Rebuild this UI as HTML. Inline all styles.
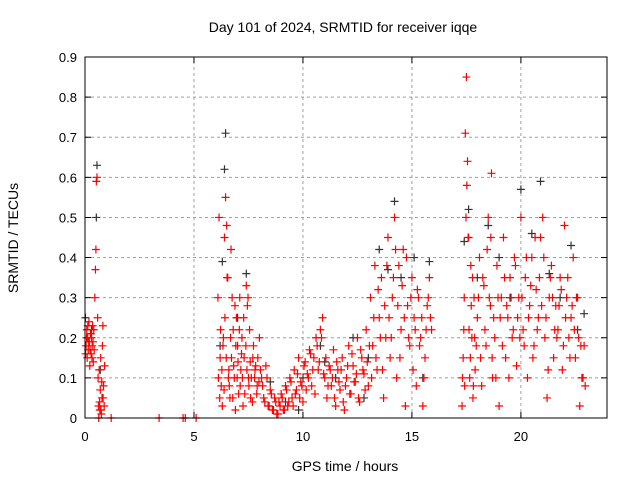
<!DOCTYPE html>
<html><head><meta charset="utf-8"><style>
body{margin:0;background:#fff}
svg{display:block;font-family:"Liberation Sans",sans-serif}
</style></head><body>
<svg id="chart" width="640" height="480">
<text x="343" y="32" text-anchor="middle" font-size="14">Day 101 of 2024, SRMTID for receiver iqqe</text>
<text x="345" y="471" text-anchor="middle" font-size="14">GPS time / hours</text>
<text transform="translate(18,238) rotate(-90)" text-anchor="middle" font-size="14">SRMTID / TECUs</text>
<g id="grid"></g><g id="ticks"></g><g id="black"></g><g id="red"></g>
<rect x="85" y="57" width="522" height="361" fill="none" stroke="#000"/>
</svg>
<script>
const xTicks=[0,5,10,15,20];
const yTicks=[0,0.1,0.2,0.3,0.4,0.5,0.6,0.7,0.8,0.9];
const redT=[0.05,0.08,0.1,0.12,0.15,0.18,0.2,0.22,0.25,0.28,0.3,0.33,0.35,0.38,0.4,0.45,0.48,0.5,0.52,0.55,0.58,0.6,0.62,0.65,0.68,0.7,0.72,0.75,0.78,0.8,0.82,0.85,0.88,0.9,1.2,3.4,4.5,4.6,5.1,6.1,6.15,6.2,6.25,6.3,6.35,6.4,6.45,6.5,6.55,6.6,6.65,6.7,6.75,6.8,6.85,6.9,6.95,7.0,7.05,7.1,7.15,7.2,7.25,7.3,7.4,7.45,7.5,7.55,7.6,7.7,7.8,7.9,8.0,8.1,8.2,8.3,8.4,8.5,8.6,8.7,8.8,8.9,9.0,9.1,9.2,9.3,9.4,9.5,9.6,9.7,9.8,9.9,10.0,10.1,10.2,10.3,10.4,10.5,10.6,10.7,10.8,10.9,11.0,11.1,11.2,11.3,11.4,11.5,11.6,11.7,11.8,11.9,12.0,12.1,12.2,12.3,12.4,12.5,12.6,12.7,12.8,12.9,13.0,13.1,13.2,13.3,13.4,13.5,13.6,13.7,13.8,13.9,14.0,14.1,14.2,14.3,14.4,14.5,14.6,14.7,14.8,14.9,15.0,15.1,15.2,15.3,15.4,15.5,15.6,15.7,15.8,15.9,17.3,17.35,17.4,17.45,17.5,17.55,17.6,17.65,17.7,17.75,17.8,17.85,17.9,18.0,18.1,18.2,18.3,18.4,18.5,18.6,18.65,18.7,18.8,18.9,19.0,19.1,19.2,19.3,19.4,19.5,19.6,19.7,19.8,19.9,20.0,20.1,20.2,20.3,20.4,20.5,20.6,20.7,20.8,20.9,21.0,21.1,21.2,21.3,21.4,21.5,21.6,21.7,21.8,21.9,22.0,22.1,22.2,22.3,22.4,22.5,22.6,22.7,22.8,22.9,
0.03,0.07,0.13,0.17,0.23,0.27,0.32,0.37,0.42,0.63,0.67,0.73,0.77,0.83,
6.12,6.18,6.22,6.28,6.33,6.38,6.42,6.48,6.52,6.58,6.62,6.68,6.72,6.78,6.82,6.88,6.92,6.98,7.02,7.08,7.12,7.18,7.22,7.28,7.33,7.38,7.43,7.48,7.52,7.58,7.63,7.68,7.73,7.78,7.83,7.88,7.93,7.98,8.05,8.15,8.25,8.35,8.45,8.55,8.65,8.75,8.85,8.95,9.05,9.15,9.25,9.35,9.45,9.55,9.65,9.75,9.85,9.95,10.05,10.15,10.25,10.35,10.45,10.55,10.65,10.75,10.85,10.95,
11.05,11.15,11.25,11.35,11.45,11.55,11.65,11.75,11.85,11.95,12.05,12.15,12.25,12.35,12.45,12.55,12.65,12.75,12.85,12.95,13.05,13.15,13.25,13.35,13.45,13.55,13.65,13.75,13.85,13.95,14.05,14.15,14.25,14.35,14.45,14.55,14.65,14.75,14.85,14.95,15.05,15.15,15.25,15.35,15.45,15.55,15.65,15.75,15.85,
17.32,17.38,17.42,17.48,17.52,17.58,17.62,17.68,17.72,17.78,17.82,17.88,17.95,18.05,18.15,18.25,18.35,18.45,18.55,18.62,18.68,18.75,18.85,18.95,19.05,19.15,19.25,19.35,19.45,19.55,19.65,19.75,19.85,19.95,20.05,20.15,20.25,20.35,20.45,20.55,20.65,20.75,20.85,20.95,21.05,21.15,21.25,21.35,21.45,21.55,21.65,21.75,21.85,21.95,22.05,22.15,22.25,22.35,22.45,22.55,22.65,22.75,22.85,22.95];
const redV=[.18,.22,.15,.2,.17,.24,.19,.13,.21,.16,.2,.18,.23,.14,.22,.3,.37,.42,.59,.6,.25,.1,.03,.12,.02,.07,.15,.01,.05,.18,.23,.08,.03,.13,0,0,0,0,0,.3,.5,.15,.08,.03,.2,.45,.55,.48,.35,.12,.05,.42,.3,.22,.1,.02,.25,.18,.06,.3,.12,.2,.03,.15,.33,.28,.1,.22,.05,.15,.12,.08,.2,.1,.05,.13,.03,.07,.02,.05,.01,.04,.06,.02,.08,.03,.1,.05,.12,.07,.15,.09,.04,.14,.11,.17,.08,.15,.2,.12,.22,.25,.1,.05,.13,.08,.17,.03,.12,.07,.15,.02,.1,.18,.06,.13,.09,.2,.04,.15,.11,.22,.08,.3,.18,.38,.12,.25,.35,.05,.2,.45,.15,.3,.5,.1,.38,.22,.42,.03,.28,.18,.35,.25,.08,.3,.2,.03,.15,.28,.35,.22,.03,.15,.3,.71,.85,.64,.45,.1,.38,.2,.05,.3,.12,.25,.4,.08,.33,.18,.5,.28,.61,.1,.2,.38,.03,.3,.45,.15,.25,.35,.2,.4,.13,.3,.5,.22,.35,.1,.28,.4,.18,.32,.25,.45,.5,.2,.05,.3,.38,.15,.28,.22,.35,.12,.48,.3,.2,.25,.4,.15,.3,.03,.1,.18,
.16,.2,.23,.19,.17,.21,.15,.19,.17,.0,.04,.02,.09,.05,
.1,.05,.22,.12,.18,.07,.25,.15,.35,.1,.08,.2,.15,.05,.13,.28,.18,.1,.14,.22,.08,.16,.1,.25,.06,.18,.12,.3,.08,.14,.1,.04,.18,.1,.13,.06,.15,.09,.12,.08,.04,.1,.03,.06,.02,.04,.01,.03,.05,.02,.07,.04,.09,.03,.06,.11,.05,.08,.13,.07,.1,.16,.12,.06,.18,.14,.2,.11,
.15,.08,.12,.1,.05,.14,.09,.12,.04,.08,.13,.06,.16,.09,.11,.05,.17,.12,.07,.14,.18,.1,.25,.15,.32,.2,.12,.28,.38,.25,.2,.35,.42,.28,.15,.33,.25,.4,.2,.3,.12,.22,.32,.18,.25,.1,.22,.3,.25,
.1,.22,.08,.5,.58,.45,.22,.15,.28,.35,.08,.2,.18,.3,.15,.35,.22,.42,.3,.45,.15,.25,.1,.3,.25,.18,.35,.28,.1,.3,.22,.38,.25,.2,.3,.18,.4,.25,.33,.15,.45,.22,.35,.28,.4,.25,.12,.35,.3,.22,.2,.28,.32,.18,.25,.35,.15,.28,.22,.3,.2,.18,.1,.08];
const blackT=[0.02,0.3,0.55,0.52,0.7,6.4,6.45,6.3,6.2,7.4,7.0,8.5,9.2,10.0,10.8,11.5,12.3,13.0,13.5,13.9,14.2,14.5,15.1,15.8,15.5,17.4,17.6,18.0,18.5,19.0,19.5,20.0,20.5,20.9,21.3,21.8,22.3,22.6,22.9,12.8,9.8,11.0];
const blackV=[.25,.22,.63,.5,.12,.62,.71,.39,.18,.36,.25,.09,.04,.1,.18,.1,.2,.15,.42,.37,.54,.35,.4,.39,.1,.44,.52,.35,.48,.4,.3,.57,.46,.59,.36,.3,.43,.22,.26,.05,.02,.14];
const X0=85,X1=607,Y0=418,Y1=57,XMAX=23.95,YMAX=0.9;
const sx=t=>X0+t/XMAX*(X1-X0), sy=v=>Y0-v/YMAX*(Y0-Y1);
const NS='http://www.w3.org/2000/svg';
function mk(tag,attrs,parent){const e=document.createElementNS(NS,tag);for(const k in attrs)e.setAttribute(k,attrs[k]);document.getElementById(parent).appendChild(e);return e;}
xTicks.forEach(t=>{const x=sx(t);
 if(t>0){const g=mk('line',{x1:x,x2:x,y1:Y0,y2:Y1,stroke:'#a0a0a0','stroke-dasharray':'3,3'},'grid');
 
 }
 const tk=mk('path',{d:`M${x} ${Y0}v-6M${x} ${Y1}v6`,stroke:'#000'},'ticks');
 
 
 const l=mk('text',{x:x,y:Y0+23,'text-anchor':'middle','font-size':'13'},'ticks');l.textContent=t;
 
 });
yTicks.forEach(v=>{const y=sy(v);
 if(v>0&&v<0.9){const g=mk('line',{x1:X0,x2:X1,y1:y,y2:y,stroke:'#a0a0a0','stroke-dasharray':'3,3'},'grid');
 
 }
 const tk=mk('path',{d:`M${X0} ${y}h6M${X1} ${y}h-6`,stroke:'#000'},'ticks');
 
 
 const l=mk('text',{x:X0-8,y:y+5,'text-anchor':'end','font-size':'13'},'ticks');l.textContent=v===0?'0':String(v);
 
 });
function plot(T,V,col,g,name){T.forEach((t,i)=>{const x=sx(t),y=sy(V[i]);
 const p=mk('path',{d:`M${x-4} ${y}h8M${x} ${y-4}v8`,stroke:col,'stroke-width':'1.2'},g);
 
 });}
plot(blackT,blackV,'#333','black','black-point');
plot(redT,redV,'#ff0000','red','red-point');
</script>
</body></html>
